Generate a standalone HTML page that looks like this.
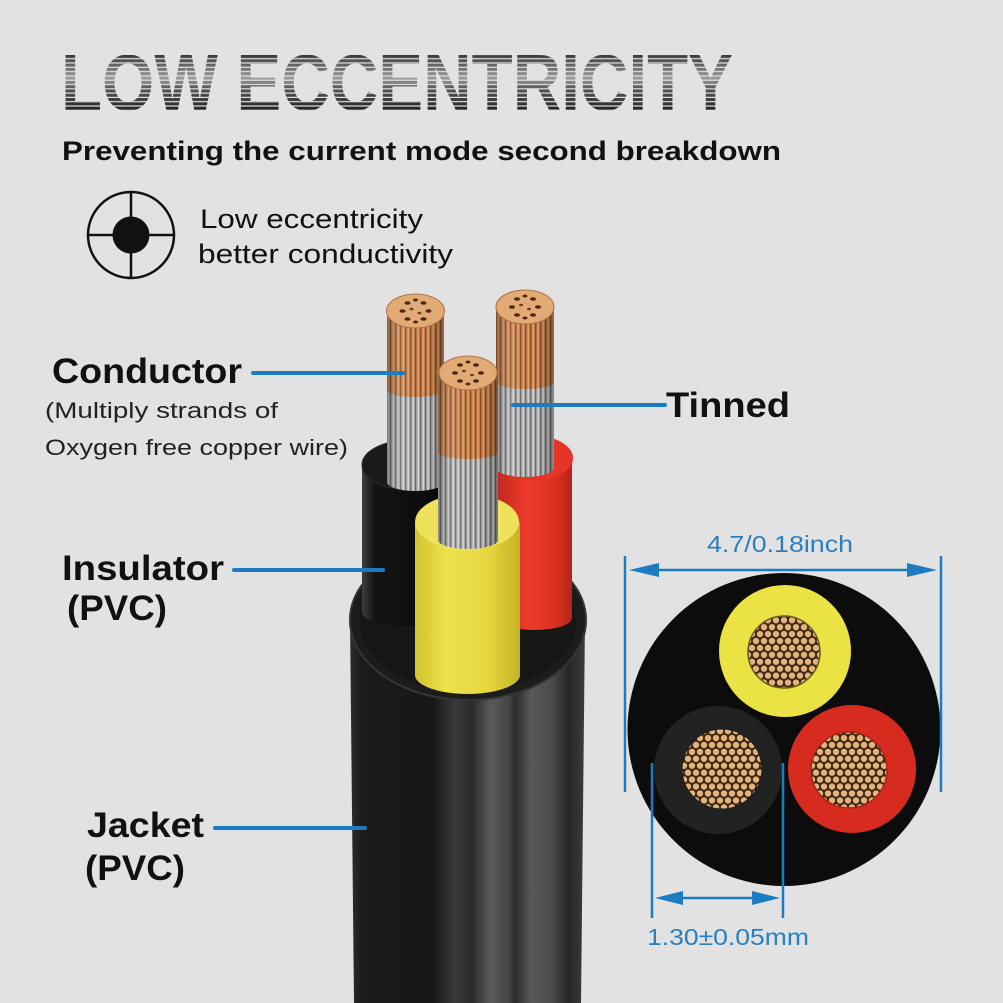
<!DOCTYPE html>
<html><head><meta charset="utf-8"><style>
html,body{margin:0;padding:0;background:#e2e2e2;}
svg{display:block;}
text{font-family:"Liberation Sans",Arial,sans-serif;}
</style></head><body>
<svg width="1003" height="1003" viewBox="0 0 1003 1003" xmlns="http://www.w3.org/2000/svg">
<defs>
  <linearGradient id="tg" x1="0" y1="55" x2="0" y2="111" gradientUnits="userSpaceOnUse">
    <stop offset="0" stop-color="#3a3a3a"/><stop offset="0.2" stop-color="#6a6a6a"/>
    <stop offset="0.42" stop-color="#9c9c9c"/><stop offset="0.6" stop-color="#555"/>
    <stop offset="1" stop-color="#222"/>
  </linearGradient>
  <pattern id="tstripe" x="0" y="55" width="20" height="4.3" patternUnits="userSpaceOnUse">
    <rect y="3.1" width="20" height="1.2" fill="#e2e2e2"/>
  </pattern>
  <clipPath id="tc"><text x="61" y="110" font-weight="bold" font-size="80" textLength="672" lengthAdjust="spacingAndGlyphs">LOW ECCENTRICITY</text></clipPath>

  <pattern id="cu" width="5" height="20" patternUnits="userSpaceOnUse">
    <rect width="5" height="20" fill="#c47c46"/><rect width="1.2" height="20" fill="#8a4d25"/><rect x="2.6" width="1.3" height="20" fill="#e3a674"/>
  </pattern>
  <pattern id="ag" width="5" height="20" patternUnits="userSpaceOnUse">
    <rect width="5" height="20" fill="#a8a8a8"/><rect width="1.2" height="20" fill="#6c6c6c"/><rect x="2.6" width="1.3" height="20" fill="#dadada"/>
  </pattern>
  <linearGradient id="shade" x1="0" y1="0" x2="1" y2="0">
    <stop offset="0" stop-color="#000" stop-opacity="0.35"/><stop offset="0.3" stop-color="#fff" stop-opacity="0.08"/>
    <stop offset="0.7" stop-color="#000" stop-opacity="0"/><stop offset="1" stop-color="#000" stop-opacity="0.35"/>
  </linearGradient>
  <linearGradient id="jk" x1="350" y1="0" x2="585" y2="0" gradientUnits="userSpaceOnUse">
    <stop offset="0" stop-color="#2e2e2e"/><stop offset="0.05" stop-color="#1b1b1b"/>
    <stop offset="0.35" stop-color="#171717"/><stop offset="0.45" stop-color="#3a3a3a"/>
    <stop offset="0.52" stop-color="#2a2a2a"/><stop offset="0.6" stop-color="#5a5a5a"/>
    <stop offset="0.68" stop-color="#444"/><stop offset="0.7" stop-color="#2a2a2a"/>
    <stop offset="0.77" stop-color="#595959"/><stop offset="0.86" stop-color="#4a4a4a"/>
    <stop offset="0.93" stop-color="#262626"/><stop offset="1" stop-color="#3c3c3c"/>
  </linearGradient>
  <linearGradient id="yl" x1="415" y1="0" x2="520" y2="0" gradientUnits="userSpaceOnUse">
    <stop offset="0" stop-color="#d2c22c"/><stop offset="0.3" stop-color="#efe24c"/>
    <stop offset="0.7" stop-color="#e6d640"/><stop offset="1" stop-color="#c4b224"/>
  </linearGradient>
  <linearGradient id="rd" x1="497" y1="0" x2="572" y2="0" gradientUnits="userSpaceOnUse">
    <stop offset="0" stop-color="#c2281e"/><stop offset="0.4" stop-color="#ee3b2e"/>
    <stop offset="0.8" stop-color="#d8301f"/><stop offset="1" stop-color="#b4231a"/>
  </linearGradient>
  <linearGradient id="bk" x1="362" y1="0" x2="445" y2="0" gradientUnits="userSpaceOnUse">
    <stop offset="0" stop-color="#3e3e3e"/><stop offset="0.15" stop-color="#141414"/><stop offset="1" stop-color="#0a0a0a"/>
  </linearGradient>
  <pattern id="dots" width="8" height="13.86" patternUnits="userSpaceOnUse">
    <rect width="8" height="13.86" fill="#3a2410"/>
    <circle cx="4" cy="3.46" r="3.2" fill="#e2b37e"/>
    <circle cx="0" cy="10.39" r="3.2" fill="#e2b37e"/>
    <circle cx="8" cy="10.39" r="3.2" fill="#e2b37e"/>
  </pattern>
  <g id="cap">
    <ellipse cx="0" cy="0" rx="29" ry="17" fill="#e2aa74" stroke="#b07040" stroke-width="1"/>
    <ellipse cx="-13" cy="0" rx="3" ry="1.8" fill="#4a2a14"/>
    <ellipse cx="13" cy="0" rx="3" ry="1.8" fill="#4a2a14"/>
    <ellipse cx="-8" cy="-8" rx="3" ry="1.8" fill="#4a2a14"/>
    <ellipse cx="8" cy="-8" rx="3" ry="1.8" fill="#4a2a14"/>
    <ellipse cx="-8" cy="8" rx="3" ry="1.8" fill="#4a2a14"/>
    <ellipse cx="8" cy="8" rx="3" ry="1.8" fill="#4a2a14"/>
    <ellipse cx="0" cy="-11" rx="2.5" ry="1.5" fill="#4a2a14"/>
    <ellipse cx="0" cy="11" rx="2.5" ry="1.5" fill="#4a2a14"/>
    <ellipse cx="-4" cy="-2" rx="2" ry="1.3" fill="#6a3f1e"/>
    <ellipse cx="4" cy="2" rx="2" ry="1.3" fill="#6a3f1e"/>
  </g>
</defs>

<rect width="1003" height="1003" fill="#e2e2e2"/>

<!-- Title -->
<g clip-path="url(#tc)">
  <rect x="55" y="50" width="690" height="65" fill="url(#tg)"/>
  <rect x="55" y="50" width="690" height="65" fill="url(#tstripe)"/>
</g>
<text x="62" y="160" font-size="27" font-weight="bold" fill="#111" textLength="719" lengthAdjust="spacingAndGlyphs">Preventing the current mode second breakdown</text>

<!-- icon -->
<circle cx="131" cy="235" r="43" fill="none" stroke="#111" stroke-width="2.5"/>
<line x1="88" y1="235" x2="174" y2="235" stroke="#111" stroke-width="2.5"/>
<line x1="131" y1="192" x2="131" y2="278" stroke="#111" stroke-width="2.5"/>
<circle cx="131" cy="235" r="18.5" fill="#111"/>
<text x="200" y="228" font-size="27" fill="#111" textLength="223" lengthAdjust="spacingAndGlyphs">Low eccentricity</text>
<text x="198" y="263" font-size="27" fill="#111" textLength="255" lengthAdjust="spacingAndGlyphs">better conductivity</text>

<!-- Jacket -->
<path d="M350,620 L354,1003 L581,1003 L585,620 Z" fill="url(#jk)"/>
<ellipse cx="468" cy="620" rx="118" ry="80" fill="#1c1c1c" stroke="#353535" stroke-width="2"/>
<ellipse cx="468" cy="622" rx="108" ry="70" fill="#161616"/>

<!-- black tube -->
<path d="M362,465 L362,612 A43,14 0 0 0 448,612 L448,465 Z" fill="url(#bk)"/>
<ellipse cx="405" cy="465" rx="43" ry="24" fill="#1a1a1a" stroke="#2c2c2c" stroke-width="1"/>
<!-- black wire -->
<path d="M387,390 L387,482 A28.5,9 0 0 0 444,482 L444,390 Z" fill="url(#ag)"/>
<path d="M387,390 L387,482 A28.5,9 0 0 0 444,482 L444,390 Z" fill="url(#shade)"/>
<path d="M387,311 L387,390 A28.5,7 0 0 0 444,390 L444,311 Z" fill="url(#cu)"/>
<path d="M387,311 L387,390 A28.5,7 0 0 0 444,390 L444,311 Z" fill="url(#shade)"/>
<use href="#cap" transform="translate(415.5,311)"/>

<!-- red tube -->
<path d="M497,458 L497,618 A37.5,12 0 0 0 572,618 L572,458 Z" fill="url(#rd)"/>
<ellipse cx="535" cy="458" rx="38" ry="22" fill="#e43528"/>
<!-- red wire -->
<path d="M496,382 L496,468 A29,9 0 0 0 554,468 L554,382 Z" fill="url(#ag)"/>
<path d="M496,382 L496,468 A29,9 0 0 0 554,468 L554,382 Z" fill="url(#shade)"/>
<path d="M496,307 L496,382 A29,7 0 0 0 554,382 L554,307 Z" fill="url(#cu)"/>
<path d="M496,307 L496,382 A29,7 0 0 0 554,382 L554,307 Z" fill="url(#shade)"/>
<use href="#cap" transform="translate(525,307)"/>

<!-- yellow tube -->
<path d="M415,522 L415,675 A52.5,19 0 0 0 520,675 L520,522 Z" fill="url(#yl)"/>
<ellipse cx="467" cy="522" rx="52" ry="28" fill="#eee25a"/>
<!-- yellow wire -->
<path d="M438,452 L438,540 A30,9 0 0 0 498,540 L498,452 Z" fill="url(#ag)"/>
<path d="M438,452 L438,540 A30,9 0 0 0 498,540 L498,452 Z" fill="url(#shade)"/>
<path d="M438,373 L438,452 A30,7 0 0 0 498,452 L498,373 Z" fill="url(#cu)"/>
<path d="M438,373 L438,452 A30,7 0 0 0 498,452 L498,373 Z" fill="url(#shade)"/>
<use href="#cap" transform="translate(468,373)"/>

<!-- label lines -->
<g stroke="#1b7cc2" stroke-width="4" stroke-linecap="round">
  <line x1="253" y1="373" x2="403" y2="373"/>
  <line x1="513" y1="405" x2="665" y2="405"/>
  <line x1="234" y1="570" x2="383" y2="570"/>
  <line x1="215" y1="828" x2="365" y2="828"/>
</g>

<!-- labels -->
<text x="52" y="383" font-size="35" font-weight="bold" fill="#111" textLength="190" lengthAdjust="spacingAndGlyphs">Conductor</text>
<text x="45" y="418" font-size="22" fill="#222" textLength="233" lengthAdjust="spacingAndGlyphs">(Multiply strands of</text>
<text x="45" y="455" font-size="22" fill="#222" textLength="303" lengthAdjust="spacingAndGlyphs">Oxygen free copper wire)</text>
<text x="666" y="417" font-size="35" font-weight="bold" fill="#111" textLength="124" lengthAdjust="spacingAndGlyphs">Tinned</text>
<text x="62" y="580" font-size="35" font-weight="bold" fill="#111" textLength="162" lengthAdjust="spacingAndGlyphs">Insulator</text>
<text x="67" y="620" font-size="35" font-weight="bold" fill="#111" textLength="100" lengthAdjust="spacingAndGlyphs">(PVC)</text>
<text x="87" y="837" font-size="35" font-weight="bold" fill="#111" textLength="117" lengthAdjust="spacingAndGlyphs">Jacket</text>
<text x="85" y="880" font-size="35" font-weight="bold" fill="#111" textLength="100" lengthAdjust="spacingAndGlyphs">(PVC)</text>

<!-- Cross-section -->
<circle cx="784" cy="729.5" r="156.5" fill="#0c0c0c"/>
<circle cx="785" cy="651" r="66" fill="#ebe244"/>
<circle cx="784" cy="652" r="36" fill="url(#dots)" stroke="#6b5a1e" stroke-width="1.5"/>
<circle cx="718" cy="770" r="64" fill="#222"/>
<circle cx="722" cy="769" r="40" fill="url(#dots)" stroke="#1a1a1a" stroke-width="1"/>
<circle cx="852" cy="769" r="64" fill="#d82b1f"/>
<circle cx="849" cy="770" r="38" fill="url(#dots)" stroke="#a52418" stroke-width="1.5"/>

<!-- dimension lines -->
<g stroke="#1b7cc2" stroke-width="2.5" fill="none">
  <line x1="625" y1="556" x2="625" y2="792"/>
  <line x1="941" y1="556" x2="941" y2="792"/>
  <line x1="650" y1="570" x2="918" y2="570"/>
  <line x1="652" y1="763" x2="652" y2="918"/>
  <line x1="783" y1="763" x2="783" y2="918"/>
  <line x1="676" y1="898" x2="760" y2="898"/>
</g>
<g fill="#1b7cc2">
  <polygon points="629,570 659,563 659,577"/>
  <polygon points="937,570 907,563 907,577"/>
  <polygon points="655,898 683,891 683,905"/>
  <polygon points="780,898 752,891 752,905"/>
</g>
<text x="707" y="552" font-size="23" fill="#2a7fc1" textLength="146" lengthAdjust="spacingAndGlyphs">4.7/0.18inch</text>
<text x="647" y="945" font-size="23" fill="#2a7fc1" textLength="162" lengthAdjust="spacingAndGlyphs">1.30±0.05mm</text>
</svg>
</body></html>
